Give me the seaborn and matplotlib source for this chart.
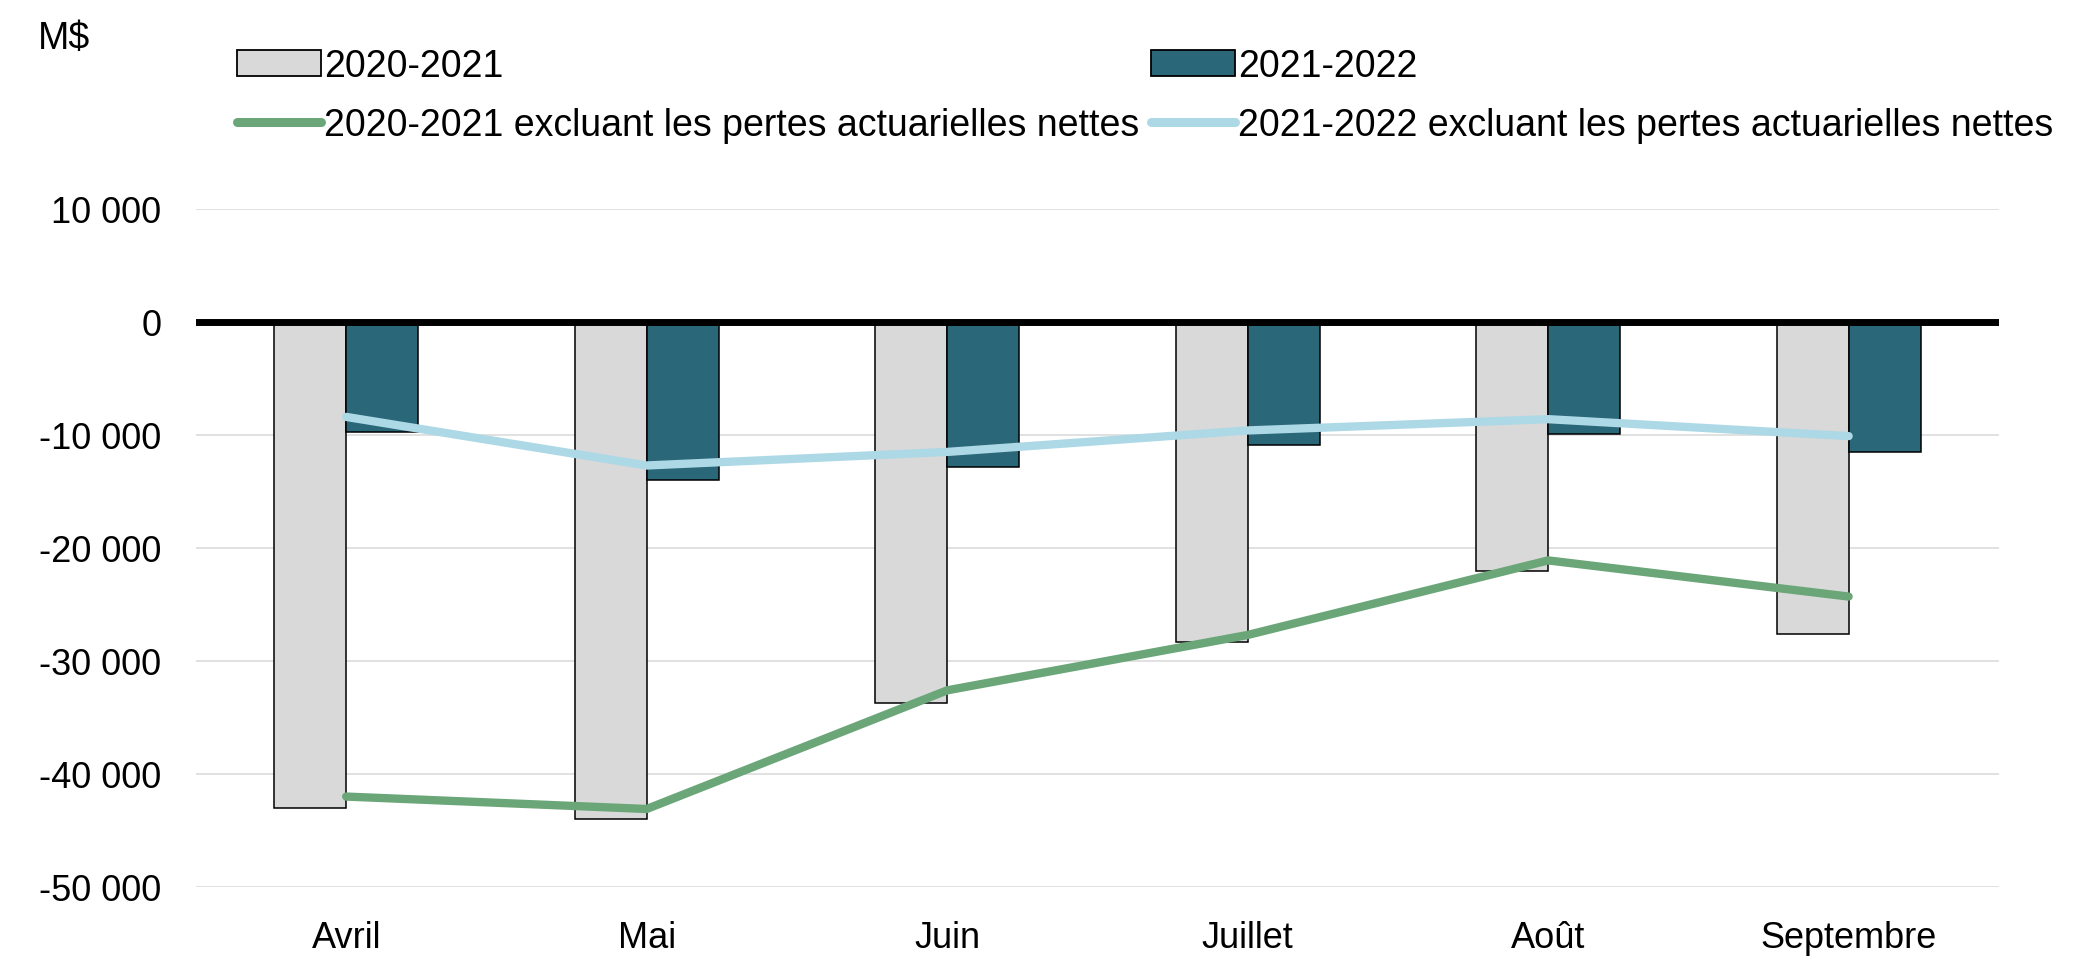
import matplotlib
matplotlib.use("Agg")
import matplotlib.pyplot as plt
import seaborn as sns
import numpy as np
import pandas as pd
from matplotlib.patches import Patch
from matplotlib.lines import Line2D
from matplotlib.ticker import FuncFormatter, FixedLocator

months = ["Avril", "Mai", "Juin", "Juillet", "Août", "Septembre"]
series_bars = ["2020-2021", "2021-2022"]
bars_2020 = [-43000, -44000, -33700, -28300, -22000, -27600]
bars_2021 = [-9700, -14000, -12800, -10900, -9900, -11500]
line_2020_excl = [-42000, -43100, -32600, -27700, -21100, -24300]
line_2021_excl = [-8400, -12700, -11500, -9600, -8600, -10100]
line_labels = ["2020-2021 excluant les pertes actuarielles nettes",
               "2021-2022 excluant les pertes actuarielles nettes"]
yticks = [10000, 0, -10000, -20000, -30000, -40000, -50000]

c_grey = "#d9d9d9"
c_teal = "#2a6778"
c_green = "#6aa678"
c_lblue = "#add8e6"

sns.set_theme(style="white")
plt.rcParams["font.family"] = ["Liberation Sans", "DejaVu Sans"]
plt.rcParams["text.color"] = "black"
FS = 26
FS_LEG = 27

fig = plt.figure(figsize=(20.8, 9.79), dpi=100)
ax = fig.add_axes([0.0942, 0.093, 0.8668, 0.6925])

df = pd.DataFrame({
    "month": months * 2,
    "series": [series_bars[0]] * 6 + [series_bars[1]] * 6,
    "value": bars_2020 + bars_2021,
})
sns.barplot(data=df, x="month", y="value", hue="series", order=months,
            hue_order=series_bars, palette=[c_grey, c_teal], width=0.48,
            edgecolor="black", linewidth=1.1, saturation=1, ax=ax, legend=False,
            zorder=2)

xpos = np.arange(len(months))
sns.lineplot(x=xpos, y=line_2020_excl, color=c_green, linewidth=6, ax=ax,
             zorder=4, solid_capstyle="round")
sns.lineplot(x=xpos, y=line_2021_excl, color=c_lblue, linewidth=6, ax=ax,
             zorder=4, solid_capstyle="round")

ax.set_xlim(-0.5, len(months) - 0.5)
ax.set_ylim(-50000, 10000)
ax.yaxis.set_major_locator(FixedLocator(yticks))
ax.yaxis.set_major_formatter(FuncFormatter(lambda v, p: f"{int(v):,}".replace(",", " ")))
ax.grid(axis="y", color="#d9d9d9", linewidth=1.1, zorder=0)
ax.set_axisbelow(True)
ax.axhline(0, color="black", linewidth=5, zorder=3)
for s in ax.spines.values():
    s.set_visible(False)
ax.set_xlabel("")
ax.set_ylabel("")
ax.tick_params(axis="y", length=0, pad=25, labelsize=FS, labelcolor="black")
ax.tick_params(axis="x", length=0, pad=24, labelsize=FS, labelcolor="black")

fig.text(0.018, 0.960, "M$", fontsize=FS_LEG, va="center", ha="left", color="black")

handles = [
    Patch(facecolor=c_grey, edgecolor="black", linewidth=1.3),
    Line2D([0], [0], color=c_green, linewidth=6.5, solid_capstyle="round"),
    Patch(facecolor=c_teal, edgecolor="black", linewidth=1.3),
    Line2D([0], [0], color=c_lblue, linewidth=6.5, solid_capstyle="round"),
]
labels = [series_bars[0], line_labels[0], series_bars[1], line_labels[1]]
fig.legend(handles, labels, ncol=2, loc="upper left", bbox_to_anchor=(0.114, 0.950),
           frameon=False, fontsize=FS_LEG, handlelength=2.25, handleheight=0.7,
           handletextpad=0.08, columnspacing=0.3, labelspacing=0.62, borderpad=0,
           borderaxespad=0, labelcolor="black")

fig.savefig("out.png", dpi=100, facecolor="white")
